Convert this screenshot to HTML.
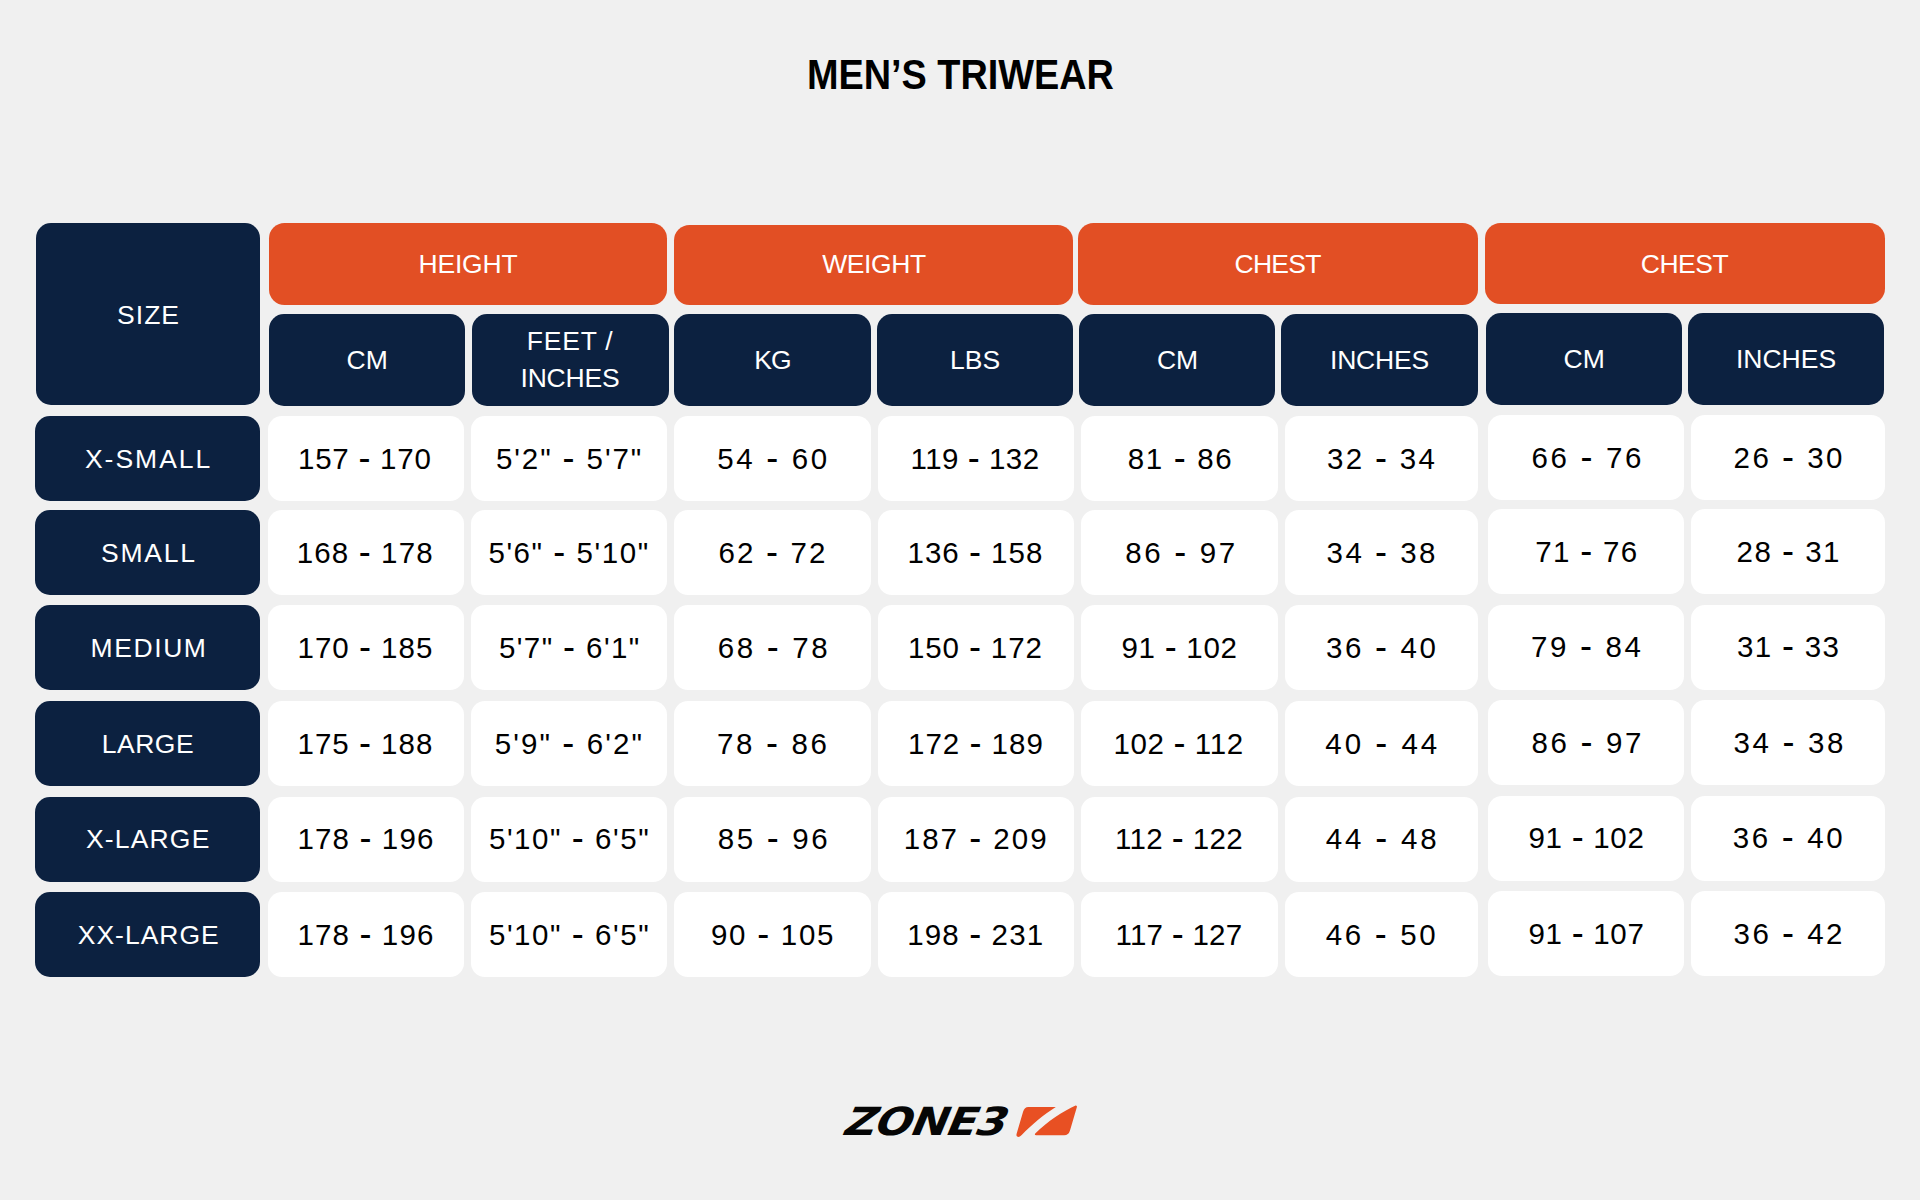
<!DOCTYPE html>
<html lang="en"><head><meta charset="utf-8"><title>Men's Triwear Size Chart</title>
<style>
html,body{margin:0;padding:0}
body{width:1920px;height:1200px;background:#f0f0f0;position:relative;overflow:hidden;font-family:"Liberation Sans",sans-serif}
.b{position:absolute}
.b span{position:absolute;white-space:nowrap;line-height:normal}
.n{background:#0c2140;color:#fff;border-radius:15px}
.o{background:#e24f24;color:#fff;border-radius:15.5px}
.w{background:#fff;color:#000;border-radius:14px}
.w i{font-style:normal;font-size:36px;line-height:0;vertical-align:-1.4px}
h1{position:absolute;margin:0;white-space:nowrap;font-size:42.2px;font-weight:bold;color:#000;line-height:normal;transform-origin:0 0;transform:scaleX(0.897)}
</style></head><body>
<h1 id="title" style="left:807.00px;top:50.87px;">MEN’S TRIWEAR</h1>
<div class="b n" style="left:35.5px;top:223.25px;width:224.50px;height:181.50px"><span style="left:81.60px;top:76.75px;font-size:26.5px;letter-spacing:1.000px">SIZE</span></div>
<div class="b o" style="left:268.5px;top:223.25px;width:398.75px;height:81.35px"><span style="left:150.00px;top:25.75px;font-size:26.5px;letter-spacing:-0.200px">HEIGHT</span></div>
<div class="b o" style="left:673.6px;top:225px;width:399.30px;height:79.60px"><span style="left:148.60px;top:24.00px;font-size:26.5px;letter-spacing:-0.400px">WEIGHT</span></div>
<div class="b o" style="left:1078px;top:223.4px;width:399.80px;height:81.20px"><span style="left:156.50px;top:25.60px;font-size:26.5px;letter-spacing:-0.750px">CHEST</span></div>
<div class="b o" style="left:1485px;top:222.75px;width:399.50px;height:81.25px"><span style="left:155.75px;top:26.25px;font-size:26.5px;letter-spacing:-0.500px">CHEST</span></div>
<div class="b n" style="left:268.75px;top:314px;width:196.25px;height:91.60px"><span style="left:77.75px;top:31.00px;font-size:26.5px;letter-spacing:0.000px">CM</span></div>
<div class="b n" style="left:472px;top:314px;width:196.50px;height:91.60px"><span style="left:54.75px;top:12.00px;font-size:26.5px;letter-spacing:0.800px">FEET /</span><span style="left:48.50px;top:49.00px;font-size:26.5px;letter-spacing:-0.200px">INCHES</span></div>
<div class="b n" style="left:674.25px;top:314px;width:196.75px;height:91.60px"><span style="left:80.00px;top:31.00px;font-size:26.5px;letter-spacing:-1.000px">KG</span></div>
<div class="b n" style="left:877px;top:314px;width:196.25px;height:91.60px"><span style="left:73.00px;top:31.00px;font-size:26.5px;letter-spacing:0.000px">LBS</span></div>
<div class="b n" style="left:1079.1px;top:314px;width:196.40px;height:91.60px"><span style="left:77.90px;top:31.00px;font-size:26.5px;letter-spacing:0.000px">CM</span></div>
<div class="b n" style="left:1281.4px;top:314px;width:196.60px;height:91.60px"><span style="left:48.60px;top:31.00px;font-size:26.5px;letter-spacing:-0.200px">INCHES</span></div>
<div class="b n" style="left:1486px;top:313.25px;width:196.25px;height:91.75px"><span style="left:77.50px;top:30.75px;font-size:26.5px;letter-spacing:0.000px">CM</span></div>
<div class="b n" style="left:1688.1px;top:313.25px;width:196.40px;height:91.75px"><span style="left:47.90px;top:30.75px;font-size:26.5px;letter-spacing:0.000px">INCHES</span></div>
<div class="b n" style="left:35.4px;top:415.7px;width:224.70px;height:85.10px"><span style="left:49.50px;top:28.30px;font-size:26.5px;letter-spacing:2.000px">X-SMALL</span></div>
<div class="b w" style="left:267.75px;top:415.7px;width:196.55px;height:85.10px"><span style="left:30.25px;top:26.30px;font-size:29.5px;letter-spacing:0.750px">157 <i>-</i> 170</span></div>
<div class="b w" style="left:470.9px;top:415.7px;width:196.10px;height:85.10px"><span style="left:25.10px;top:26.30px;font-size:29.5px;letter-spacing:1.900px">5'2&quot; <i>-</i> 5'7&quot;</span></div>
<div class="b w" style="left:673.5px;top:415.7px;width:197.75px;height:85.10px"><span style="left:43.75px;top:26.30px;font-size:29.5px;letter-spacing:2.667px">54 <i>-</i> 60</span></div>
<div class="b w" style="left:877.75px;top:415.7px;width:196.50px;height:85.10px"><span style="left:32.75px;top:26.30px;font-size:29.5px;letter-spacing:0.500px">119 <i>-</i> 132</span></div>
<div class="b w" style="left:1081px;top:415.7px;width:197.00px;height:85.10px"><span style="left:46.75px;top:26.30px;font-size:29.5px;letter-spacing:1.667px">81 <i>-</i> 86</span></div>
<div class="b w" style="left:1284.7px;top:415.7px;width:193.30px;height:85.10px"><span style="left:42.30px;top:26.30px;font-size:29.5px;letter-spacing:2.333px">32 <i>-</i> 34</span></div>
<div class="b w" style="left:1487.9px;top:414.95px;width:196.35px;height:85.10px"><span style="left:43.60px;top:26.05px;font-size:29.5px;letter-spacing:2.667px">66 <i>-</i> 76</span></div>
<div class="b w" style="left:1691px;top:414.95px;width:193.75px;height:85.10px"><span style="left:42.50px;top:26.05px;font-size:29.5px;letter-spacing:2.500px">26 <i>-</i> 30</span></div>
<div class="b n" style="left:35.4px;top:510px;width:224.70px;height:85.10px"><span style="left:65.60px;top:28.00px;font-size:26.5px;letter-spacing:1.750px">SMALL</span></div>
<div class="b w" style="left:267.75px;top:510px;width:196.55px;height:85.10px"><span style="left:29.00px;top:26.00px;font-size:29.5px;letter-spacing:1.125px">168 <i>-</i> 178</span></div>
<div class="b w" style="left:470.9px;top:510px;width:196.10px;height:85.10px"><span style="left:17.60px;top:26.00px;font-size:29.5px;letter-spacing:1.545px">5'6&quot; <i>-</i> 5'10&quot;</span></div>
<div class="b w" style="left:673.5px;top:510px;width:197.75px;height:85.10px"><span style="left:45.00px;top:26.00px;font-size:29.5px;letter-spacing:2.167px">62 <i>-</i> 72</span></div>
<div class="b w" style="left:877.75px;top:510px;width:196.50px;height:85.10px"><span style="left:29.75px;top:26.00px;font-size:29.5px;letter-spacing:1.000px">136 <i>-</i> 158</span></div>
<div class="b w" style="left:1081px;top:510px;width:197.00px;height:85.10px"><span style="left:44.25px;top:26.00px;font-size:29.5px;letter-spacing:2.667px">86 <i>-</i> 97</span></div>
<div class="b w" style="left:1284.7px;top:510px;width:193.30px;height:85.10px"><span style="left:41.80px;top:26.00px;font-size:29.5px;letter-spacing:2.500px">34 <i>-</i> 38</span></div>
<div class="b w" style="left:1487.9px;top:509.25px;width:196.35px;height:85.10px"><span style="left:47.35px;top:25.75px;font-size:29.5px;letter-spacing:1.333px">71 <i>-</i> 76</span></div>
<div class="b w" style="left:1691px;top:509.25px;width:193.75px;height:85.10px"><span style="left:45.50px;top:25.75px;font-size:29.5px;letter-spacing:1.500px">28 <i>-</i> 31</span></div>
<div class="b n" style="left:35.4px;top:605.4px;width:224.70px;height:85.10px"><span style="left:55.10px;top:27.60px;font-size:26.5px;letter-spacing:1.600px">MEDIUM</span></div>
<div class="b w" style="left:267.75px;top:605.4px;width:196.55px;height:85.10px"><span style="left:29.75px;top:25.60px;font-size:29.5px;letter-spacing:1.000px">170 <i>-</i> 185</span></div>
<div class="b w" style="left:470.9px;top:605.4px;width:196.10px;height:85.10px"><span style="left:28.10px;top:25.60px;font-size:29.5px;letter-spacing:1.400px">5'7&quot; <i>-</i> 6'1&quot;</span></div>
<div class="b w" style="left:673.5px;top:605.4px;width:197.75px;height:85.10px"><span style="left:44.25px;top:25.60px;font-size:29.5px;letter-spacing:2.667px">68 <i>-</i> 78</span></div>
<div class="b w" style="left:877.75px;top:605.4px;width:196.50px;height:85.10px"><span style="left:30.25px;top:25.60px;font-size:29.5px;letter-spacing:0.875px">150 <i>-</i> 172</span></div>
<div class="b w" style="left:1081px;top:605.4px;width:197.00px;height:85.10px"><span style="left:40.50px;top:25.60px;font-size:29.5px;letter-spacing:0.714px">91 <i>-</i> 102</span></div>
<div class="b w" style="left:1284.7px;top:605.4px;width:193.30px;height:85.10px"><span style="left:41.30px;top:25.60px;font-size:29.5px;letter-spacing:2.667px">36 <i>-</i> 40</span></div>
<div class="b w" style="left:1487.9px;top:604.65px;width:196.35px;height:85.10px"><span style="left:43.10px;top:25.35px;font-size:29.5px;letter-spacing:2.667px">79 <i>-</i> 84</span></div>
<div class="b w" style="left:1691px;top:604.65px;width:193.75px;height:85.10px"><span style="left:46.00px;top:25.35px;font-size:29.5px;letter-spacing:1.333px">31 <i>-</i> 33</span></div>
<div class="b n" style="left:35.4px;top:700.8px;width:224.70px;height:85.10px"><span style="left:66.35px;top:28.20px;font-size:26.5px;letter-spacing:0.500px">LARGE</span></div>
<div class="b w" style="left:267.75px;top:700.8px;width:196.55px;height:85.10px"><span style="left:29.75px;top:26.20px;font-size:29.5px;letter-spacing:1.000px">175 <i>-</i> 188</span></div>
<div class="b w" style="left:470.9px;top:700.8px;width:196.10px;height:85.10px"><span style="left:23.85px;top:26.20px;font-size:29.5px;letter-spacing:2.100px">5'9&quot; <i>-</i> 6'2&quot;</span></div>
<div class="b w" style="left:673.5px;top:700.8px;width:197.75px;height:85.10px"><span style="left:43.50px;top:26.20px;font-size:29.5px;letter-spacing:2.667px">78 <i>-</i> 86</span></div>
<div class="b w" style="left:877.75px;top:700.8px;width:196.50px;height:85.10px"><span style="left:30.25px;top:26.20px;font-size:29.5px;letter-spacing:1.000px">172 <i>-</i> 189</span></div>
<div class="b w" style="left:1081px;top:700.8px;width:197.00px;height:85.10px"><span style="left:32.50px;top:26.20px;font-size:29.5px;letter-spacing:0.625px">102 <i>-</i> 112</span></div>
<div class="b w" style="left:1284.7px;top:700.8px;width:193.30px;height:85.10px"><span style="left:40.55px;top:26.20px;font-size:29.5px;letter-spacing:3.000px">40 <i>-</i> 44</span></div>
<div class="b w" style="left:1487.9px;top:700.05px;width:196.35px;height:85.10px"><span style="left:43.60px;top:25.95px;font-size:29.5px;letter-spacing:2.667px">86 <i>-</i> 97</span></div>
<div class="b w" style="left:1691px;top:700.05px;width:193.75px;height:85.10px"><span style="left:42.50px;top:25.95px;font-size:29.5px;letter-spacing:2.667px">34 <i>-</i> 38</span></div>
<div class="b n" style="left:35.4px;top:796.8px;width:224.70px;height:85.10px"><span style="left:50.60px;top:27.20px;font-size:26.5px;letter-spacing:1.167px">X-LARGE</span></div>
<div class="b w" style="left:267.75px;top:796.8px;width:196.55px;height:85.10px"><span style="left:29.75px;top:25.20px;font-size:29.5px;letter-spacing:1.125px">178 <i>-</i> 196</span></div>
<div class="b w" style="left:470.9px;top:796.8px;width:196.10px;height:85.10px"><span style="left:18.10px;top:25.20px;font-size:29.5px;letter-spacing:1.545px">5'10&quot; <i>-</i> 6'5&quot;</span></div>
<div class="b w" style="left:673.5px;top:796.8px;width:197.75px;height:85.10px"><span style="left:44.25px;top:25.20px;font-size:29.5px;letter-spacing:2.667px">85 <i>-</i> 96</span></div>
<div class="b w" style="left:877.75px;top:796.8px;width:196.50px;height:85.10px"><span style="left:26.00px;top:25.20px;font-size:29.5px;letter-spacing:2.000px">187 <i>-</i> 209</span></div>
<div class="b w" style="left:1081px;top:796.8px;width:197.00px;height:85.10px"><span style="left:34.00px;top:25.20px;font-size:29.5px;letter-spacing:0.375px">112 <i>-</i> 122</span></div>
<div class="b w" style="left:1284.7px;top:796.8px;width:193.30px;height:85.10px"><span style="left:41.05px;top:25.20px;font-size:29.5px;letter-spacing:2.833px">44 <i>-</i> 48</span></div>
<div class="b w" style="left:1487.9px;top:796.05px;width:196.35px;height:85.10px"><span style="left:40.60px;top:24.95px;font-size:29.5px;letter-spacing:0.714px">91 <i>-</i> 102</span></div>
<div class="b w" style="left:1691px;top:796.05px;width:193.75px;height:85.10px"><span style="left:41.75px;top:24.95px;font-size:29.5px;letter-spacing:2.667px">36 <i>-</i> 40</span></div>
<div class="b n" style="left:35.4px;top:892.1px;width:224.70px;height:85.10px"><span style="left:42.35px;top:27.90px;font-size:26.5px;letter-spacing:1.000px">XX-LARGE</span></div>
<div class="b w" style="left:267.75px;top:892.1px;width:196.55px;height:85.10px"><span style="left:29.75px;top:25.90px;font-size:29.5px;letter-spacing:1.125px">178 <i>-</i> 196</span></div>
<div class="b w" style="left:470.9px;top:892.1px;width:196.10px;height:85.10px"><span style="left:18.10px;top:25.90px;font-size:29.5px;letter-spacing:1.545px">5'10&quot; <i>-</i> 6'5&quot;</span></div>
<div class="b w" style="left:673.5px;top:892.1px;width:197.75px;height:85.10px"><span style="left:37.50px;top:25.90px;font-size:29.5px;letter-spacing:1.714px">90 <i>-</i> 105</span></div>
<div class="b w" style="left:877.75px;top:892.1px;width:196.50px;height:85.10px"><span style="left:29.50px;top:25.90px;font-size:29.5px;letter-spacing:1.125px">198 <i>-</i> 231</span></div>
<div class="b w" style="left:1081px;top:892.1px;width:197.00px;height:85.10px"><span style="left:34.50px;top:25.90px;font-size:29.5px;letter-spacing:0.250px">117 <i>-</i> 127</span></div>
<div class="b w" style="left:1284.7px;top:892.1px;width:193.30px;height:85.10px"><span style="left:41.05px;top:25.90px;font-size:29.5px;letter-spacing:2.667px">46 <i>-</i> 50</span></div>
<div class="b w" style="left:1487.9px;top:891.35px;width:196.35px;height:85.10px"><span style="left:40.60px;top:25.65px;font-size:29.5px;letter-spacing:0.714px">91 <i>-</i> 107</span></div>
<div class="b w" style="left:1691px;top:891.35px;width:193.75px;height:85.10px"><span style="left:42.50px;top:25.65px;font-size:29.5px;letter-spacing:2.500px">36 <i>-</i> 42</span></div>
<div id="logo" style="position:absolute;left:839.5px;top:1099px;font-family:'DejaVu Sans','Liberation Sans',sans-serif;font-weight:bold;font-size:38.7px;line-height:45px;color:#060606;white-space:nowrap;letter-spacing:-1px;transform-origin:0 38px;transform:skewX(-22.6deg) scaleX(1.135)">ZONE3</div>
<svg style="position:absolute;left:1010px;top:1100px" width="72" height="42" viewBox="1010 1100 72 42">
<path fill="#e85023" d="M1028.3 1107.1 L1055.8 1107.1 C1044 1114.5 1032 1124.5 1021.7 1135 Q1019 1137.6 1017.2 1136.6 Q1016 1135.6 1016.7 1133.5 L1023 1112 Q1024.5 1107.1 1028.3 1107.1 Z"/>
<path fill="#e85023" d="M1075.6 1105.4 Q1077.4 1105.3 1076.9 1107 L1070 1130.4 Q1068.6 1135.2 1064.2 1135.2 L1036 1135.2 Q1034.2 1135 1035 1133.8 C1047 1121.2 1063.8 1110.7 1075.6 1105.4 Z"/>
</svg>

</body></html>
